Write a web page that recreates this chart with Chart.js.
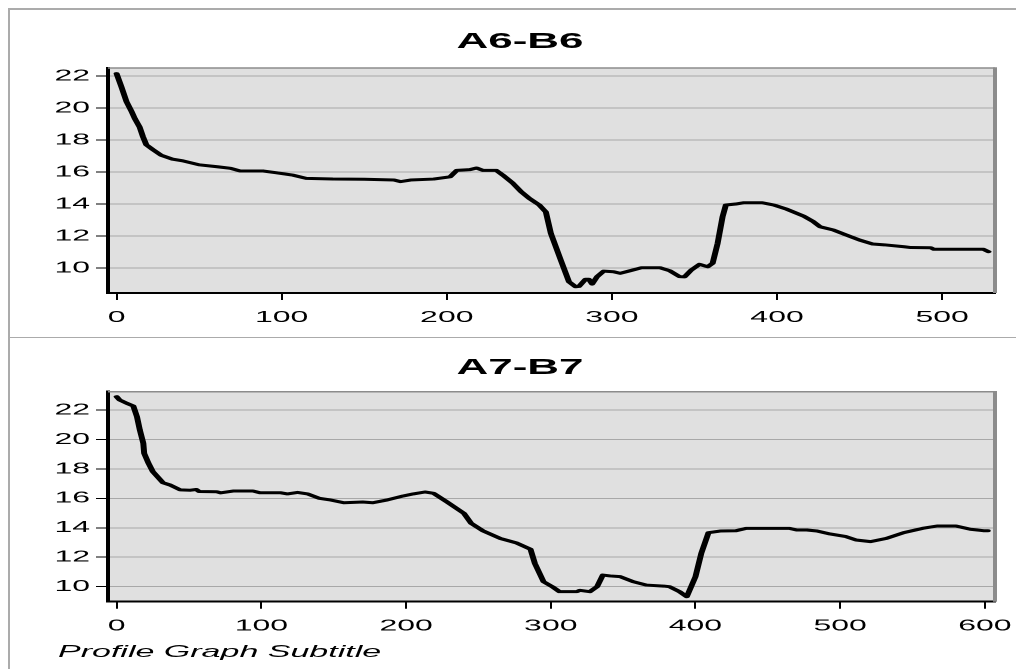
<!DOCTYPE html>
<html>
<head>
<meta charset="utf-8">
<title>Profile Graph</title>
<script src="https://cdn.jsdelivr.net/npm/chart.js@4.4.1/dist/chart.umd.min.js"></script>
<style>
  html, body { margin: 0; padding: 0; background: #fff; overflow: hidden; width: 1016px; height: 669px; }
  /* the sheet is laid out at half width and stretched horizontally */
  #page { position: absolute; left: 0; top: 0; width: 508px; height: 669px;
          transform: scale(2, 1); transform-origin: 0 0; font-family: "Liberation Sans", Arial, sans-serif; }
  .rule { position: absolute; background: #ababab; }
  .title { position: absolute; left: 160px; width: 200px; text-align: center;
           font-weight: bold; font-size: 22px; line-height: 22px; color: #000; }
  .subtitle { position: absolute; left: 29px; top: 643px; font-style: italic;
              font-size: 17px; line-height: 17px; color: #000; white-space: nowrap; }
  canvas { position: absolute; left: 0; }
</style>
</head>
<body>
<div id="page">
  <div class="rule" style="left:4px; top:8px; width:504px; height:1.5px;"></div>
  <div class="rule" style="left:4px; top:8px; width:1px; height:661px;"></div>
  <div class="rule" style="left:4px; top:336.5px; width:504px; height:1px;"></div>
  <div class="title" style="top:30px;">A6-B6</div>
  <div class="title" style="top:355.5px;">A7-B7</div>
  <canvas id="c6" width="508" height="337" style="top:0;"></canvas>
  <canvas id="c7" width="508" height="332" style="top:337px;"></canvas>
  <div class="subtitle">Profile Graph Subtitle</div>
</div>
<script>
// Profile A6-B6: distance along the section and depth
const a6x = [0, 3, 6, 9, 11, 14, 16, 18, 22, 27, 34, 40, 50, 61, 69, 75, 85, 89, 97, 107,
  115, 131, 150, 168, 172, 178, 192, 202, 206, 214, 218, 222, 230, 234, 240, 245, 250, 256, 260, 263,
  269, 274, 278, 280, 284, 286, 288, 291, 295, 301, 305, 311, 318, 329, 335, 341, 344, 348, 353, 358,
  361, 364, 367, 369, 375, 380, 391, 398, 406, 416, 422, 426, 434, 442, 450, 458, 465, 477, 481, 493,
  495, 525, 528];
const a6y = [22.15, 21.3, 20.4, 19.8, 19.35, 18.8, 18.2, 17.7, 17.4, 17.05, 16.8, 16.7, 16.45, 16.33, 16.23, 16.06, 16.06, 16.06, 15.95, 15.8,
  15.6, 15.56, 15.55, 15.5, 15.4, 15.5, 15.56, 15.7, 16.1, 16.15, 16.25, 16.1, 16.1, 15.8, 15.3, 14.77, 14.35, 13.94, 13.5, 12.17,
  10.5, 9.14, 8.83, 8.85, 9.3, 9.3, 9.0, 9.46, 9.81, 9.77, 9.67, 9.83, 10.02, 10.02, 9.83, 9.46, 9.45, 9.87, 10.23, 10.08,
  10.3, 11.54, 13.2, 13.94, 14.0, 14.08, 14.08, 13.94, 13.67, 13.25, 12.9, 12.58, 12.38, 12.06, 11.75, 11.5, 11.45, 11.33, 11.28, 11.27,
  11.17, 11.17, 11.02];

// Profile A7-B7
const a7x = [0, 2, 7, 11.5, 14, 16, 18.4, 19, 22, 25, 32, 37, 44, 51, 55, 57, 69, 72, 81, 94,
  99, 113, 118, 125, 132, 140, 147, 157, 170, 177, 187, 198, 205, 213, 219, 228, 240, 245, 253, 265,
  276, 286, 289, 295, 301, 306, 318, 320, 327, 332, 336, 341, 348, 357, 366, 378, 382, 389, 394, 400,
  404, 409, 417, 428, 435, 465, 470, 477, 484, 493, 504, 511, 521, 532, 544, 557, 567, 580, 590, 599,
  602];
const a7y = [22.9, 22.68, 22.45, 22.27, 21.55, 20.64, 19.74, 19.06, 18.38, 17.81, 17.06, 16.9, 16.57, 16.55, 16.6, 16.46, 16.45, 16.37, 16.5, 16.5,
  16.38, 16.38, 16.3, 16.4, 16.3, 16.0, 15.9, 15.7, 15.75, 15.7, 15.89, 16.16, 16.3, 16.43, 16.34, 15.77, 14.98, 14.3, 13.8, 13.28,
  12.98, 12.54, 11.58, 10.34, 10.0, 9.66, 9.66, 9.75, 9.66, 10.0, 10.79, 10.73, 10.68, 10.34, 10.11, 10.04, 10.0, 9.66, 9.32, 10.68,
  12.26, 13.67, 13.78, 13.8, 13.96, 13.96, 13.85, 13.85, 13.78, 13.58, 13.4, 13.17, 13.06, 13.28, 13.67, 13.96, 14.12, 14.12, 13.9, 13.8,
  13.8];

// Tick labels
const yTicks = [10, 12, 14, 16, 18, 20, 22];
const a6XTicks = [0, 100, 200, 300, 400, 500];
const a7XTicks = [0, 100, 200, 300, 400, 500, 600];

// Grey plot panel with a thin grey frame on the top and right edges
const plotPanel = {
  id: 'plotPanel',
  beforeDraw(chart) {
    const { ctx, chartArea: a } = chart;
    ctx.save();
    ctx.fillStyle = '#e0e0e0';
    ctx.fillRect(a.left, a.top, a.right - a.left, a.bottom - a.top);
    ctx.restore();
  },
  afterDatasetsDraw(chart) {
    const { ctx, chartArea: a } = chart;
    ctx.save();
    ctx.strokeStyle = '#8c8c8c';
    ctx.lineWidth = 1.5;
    ctx.beginPath();
    ctx.moveTo(a.left, a.top);
    ctx.lineTo(a.right, a.top);
    ctx.stroke();
    ctx.lineWidth = 2;
    ctx.beginPath();
    ctx.moveTo(a.right, a.top - 0.75);
    ctx.lineTo(a.right, a.bottom);
    ctx.stroke();
    ctx.restore();
  }
};

const tickFont = { family: '"Liberation Sans", Arial, sans-serif', size: 16 };

function profileChart(id, xs, ys, xRange, yRange, xTicks, padding) {
  const points = xs.map((x, i) => ({ x: x, y: ys[i] }));
  return new Chart(document.getElementById(id), {
    type: 'line',
    data: {
      datasets: [{
        data: points,
        borderColor: '#000',
        borderWidth: 3,
        pointRadius: 0,
        tension: 0,
        borderJoinStyle: 'round',
        borderCapStyle: 'round',
        fill: false
      }]
    },
    options: {
      responsive: false,
      animation: false,
      devicePixelRatio: 2,
      layout: { padding: padding },
      plugins: { legend: { display: false }, tooltip: { enabled: false }, title: { display: false } },
      scales: {
        x: {
          type: 'linear',
          min: xRange[0],
          max: xRange[1],
          afterBuildTicks: s => { s.ticks = xTicks.map(v => ({ value: v })); },
          afterFit: s => { s.height = 30; s.paddingLeft = 0; s.paddingRight = 0; },
          ticks: { font: tickFont, color: '#000', padding: 8, maxRotation: 0, autoSkip: false },
          grid: { drawOnChartArea: false, drawTicks: true, tickLength: 7, tickColor: '#000', tickWidth: 1 },
          border: { color: '#000', width: 2 }
        },
        y: {
          min: yRange[0],
          max: yRange[1],
          afterBuildTicks: s => { s.ticks = yTicks.map(v => ({ value: v })); },
          afterFit: s => { s.width = 54; s.paddingTop = 0; s.paddingBottom = 0; },
          ticks: { font: tickFont, color: '#000', padding: 3 },
          grid: { color: '#a8a8a8', lineWidth: 1, drawTicks: true, tickLength: 6, tickColor: '#000' },
          border: { color: '#000', width: 2 }
        }
      }
    },
    plugins: [plotPanel]
  });
}

profileChart('c6', a6x, a6y, [-5.2, 532], [8.44, 22.5], a6XTicks,
  { top: 68, right: 10.5, bottom: 14, left: 0 });
profileChart('c7', a7x, a7y, [-6, 607], [8.98, 23.24], a7XTicks,
  { top: 54.7, right: 10.5, bottom: 37.3, left: 0 });
</script>
</body>
</html>
